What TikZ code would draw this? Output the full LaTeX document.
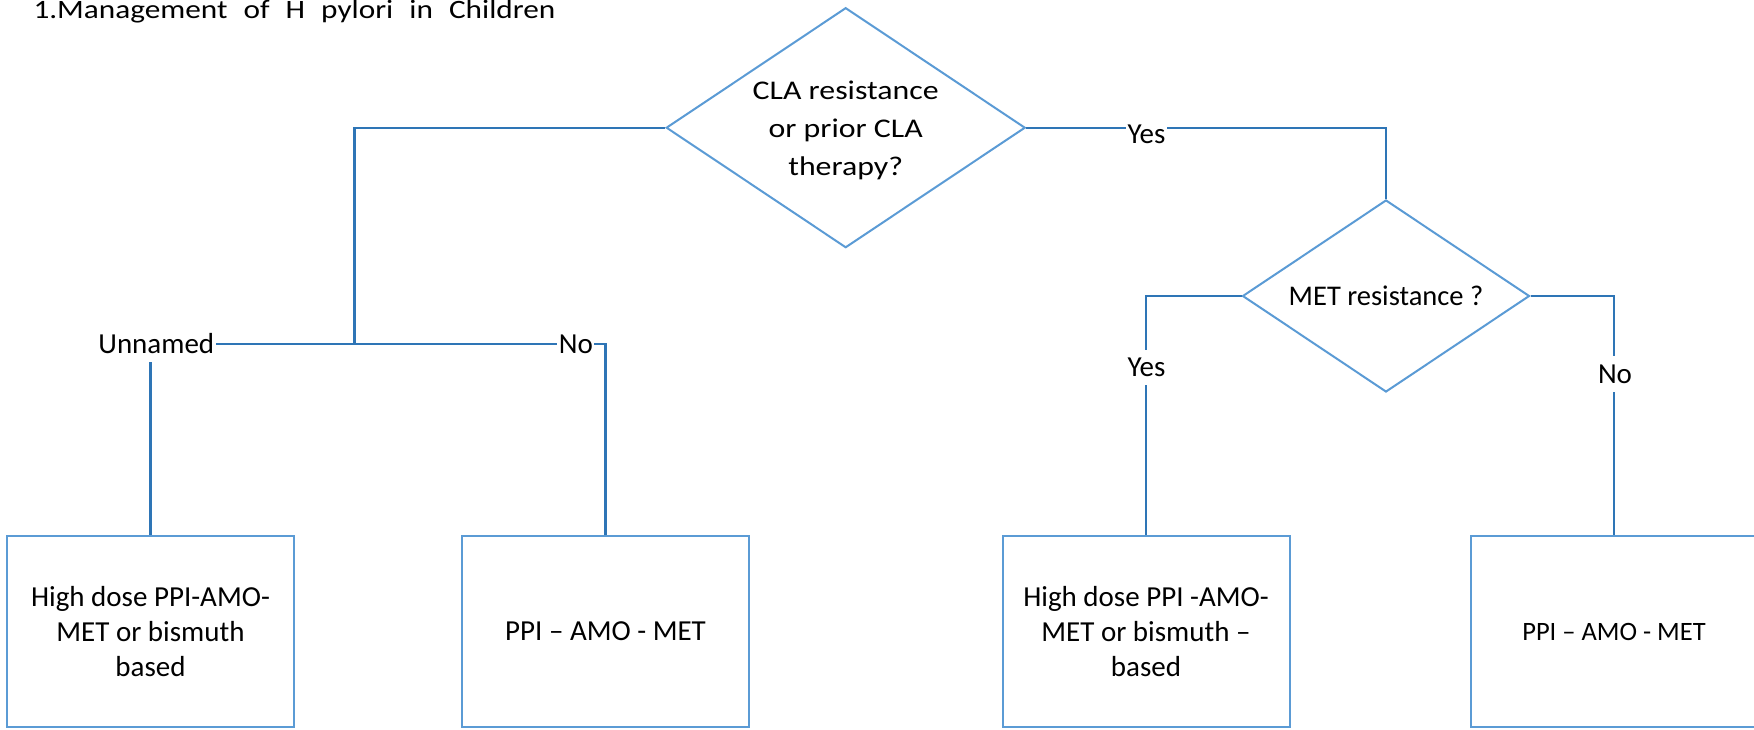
\documentclass[tikz,border=0pt]{standalone}
\usepackage{fontspec}
\setmainfont{Carlito}
\newfontfamily\widefont[FakeStretch=1.18]{Carlito}
\usetikzlibrary{shapes.geometric}
\definecolor{shapeblue}{HTML}{5B9BD5}
\definecolor{connblue}{HTML}{2E75B6}
\begin{document}
\begin{tikzpicture}[x=1pt,y=-1pt,
  shapeline/.style={draw=shapeblue, line width=2pt},
  decision/.style={shapeline, shape=diamond, inner sep=0pt, align=center},
  outcome/.style={shapeline, rectangle, minimum width=287pt, minimum height=191.5pt, inner sep=0pt, align=center, font=\fontsize{29}{35}\selectfont},
  conn/.style={draw=connblue, line width=2.2pt},
  lbl/.style={fill=white, inner xsep=1.5pt, inner ysep=1pt, text height=26pt, text depth=7.5pt, font=\fontsize{29}{35}\selectfont}
]
\useasboundingbox (0,0) rectangle (1754,729);

\node[anchor=base west, inner sep=0pt, font=\widefont\fontsize{26.5}{32}\selectfont] (title) at (33.3,18.6)
  {\makebox[522pt][s]{1.Management of H pylori in Children}};

\node[decision, aspect=1.496, minimum width=359pt, minimum height=240pt, font=\widefont\fontsize{27}{38}\selectfont] (d1) at (845.7,127.7)
  {\rule{0pt}{24pt}CLA resistance\\or prior CLA\\therapy?};
\node[decision, aspect=1.495, minimum width=287pt, minimum height=192pt, font=\fontsize{28.5}{35}\selectfont] (d2) at (1386,296)
  {MET resistance ?};

\node[outcome] (b1) at (150.5,631.5) {High dose PPI-AMO-\\MET or bismuth\\based};
\node[outcome] (b2) at (605.5,631.5) {PPI – AMO - MET};
\node[outcome] (b3) at (1146,631.5) {High dose PPI -AMO-\\MET or bismuth –\\based};
\node[outcome, font=\fontsize{26.5}{32}\selectfont] (b4) at (1614,631.5) {PPI – AMO - MET};

\coordinate (j1) at (354.5,344);

\draw[conn] (d1.west) -| (j1);
\draw[conn] (j1) -| (b1.north);
\draw[conn] (j1) -| (b2.north);
\draw[conn] (d1.east) -| (d2.north);
\draw[conn] (d2.west) -| (b3.north);
\draw[conn] (d2.east) -| (b4.north);

\node[lbl] (lu) at (156.3,344) {Unnamed};
\node[lbl] (ln1) at (575.9,344) {No};
\node[lbl] (ly1) at (1146.4,134) {Yes};
\node[lbl] (ly2) at (1146.5,367.5) {Yes};
\node[lbl] (ln2) at (1615,373.8) {No};
\end{tikzpicture}
\end{document}
